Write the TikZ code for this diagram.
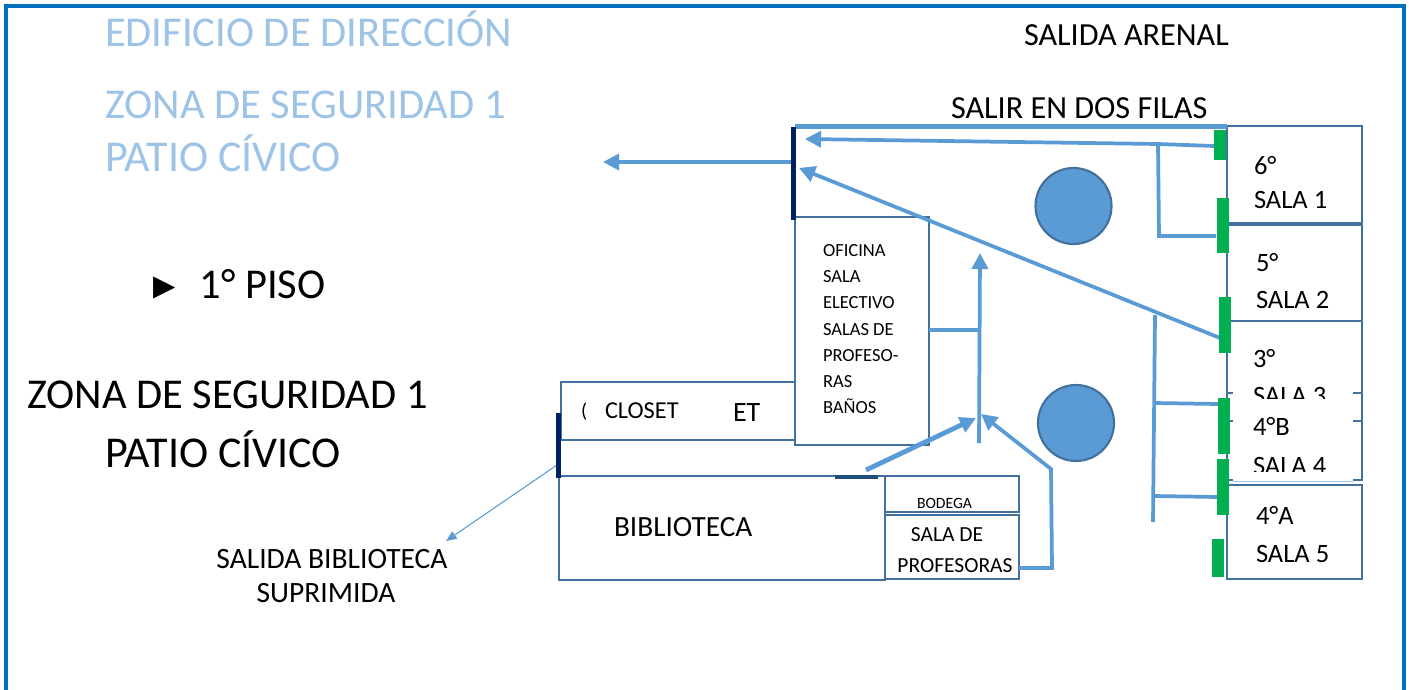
\documentclass[tikz,border=0pt]{standalone}
\usepackage{fontspec}
\setmainfont{Carlito}
\newfontfamily\symfont{DejaVu Sans}
\usetikzlibrary{arrows.meta}
\definecolor{framec}{HTML}{0070C0}
\definecolor{roomc}{HTML}{41719C}
\definecolor{flowc}{HTML}{5B9BD5}
\definecolor{palec}{HTML}{9DC3E6}
\definecolor{greenc}{HTML}{00B050}
\definecolor{navyc}{HTML}{002060}
\definecolor{darkc}{HTML}{1F4E79}
\newcommand{\fsz}[1]{\fontsize{\dimexpr #1pt*3/4\relax}{\dimexpr #1pt*9/10\relax}\selectfont}
\tikzset{
  x=0.75pt,y=-0.75pt,
  room/.style={draw=roomc,line width=2pt,fill=none,inner sep=0,outer sep=0},
  flow/.style={draw=flowc,line width=2.8pt},
  flowa/.style={flow,-{Triangle[length=12pt,width=12pt]}},
  txt/.style={anchor=base west,inner sep=0,outer sep=0,text=black},
  big/.style={txt,font=\fsz{42.5},text=palec},
  bigk/.style={txt,font=\fsz{42.5}},
  mid/.style={txt,font=\fsz{32.2}},
  lab/.style={txt,font=\fsz{26.5}},
  sm/.style={txt,font=\fsz{18.5}},
  door/.style={fill=greenc,draw=none,inner sep=0},
  bar/.style={line width=3.2pt,draw=navyc},
  pond/.style={circle,fill=flowc,draw=roomc,line width=1.6pt,inner sep=0,minimum size=57pt}
}
\newcommand{\rect}[5]{\node[room,anchor=north west,minimum width=#4*0.75pt,minimum height=#5*0.75pt] (#1) at (#2,#3) {};}
\newcommand{\grn}[5]{\node[door,anchor=north west,minimum width=#4*0.75pt,minimum height=#5*0.75pt] (#1) at (#2,#3) {};}
\begin{document}
\begin{tikzpicture}
\useasboundingbox (0,0) rectangle (1409,689);
\fill[white] (0,0) rectangle (1409,689);
\draw[framec,line width=3pt] (6,700) -- (6,6) -- (1404,6) -- (1404,700);

% titles
\node[big] (t1) at (105,46) {EDIFICIO DE DIRECCIÓN};
\node[big] (t2) at (105,118.5) {ZONA DE SEGURIDAD 1};
\node[big,font=\fsz{44}] (t3) at (105,171) {PATIO CÍVICO};
\node[txt,font=\symfont\fsz{29}] (t4) at (153,295) {▶};
\node[bigk] (t5) at (199.5,298) {1° PISO};
\node[bigk] (t6) at (27,408) {ZONA DE SEGURIDAD 1};
\node[bigk,font=\fsz{44}] (t7) at (105,467) {PATIO CÍVICO};
\node[mid] (t8) at (1024,45) {SALIDA ARENAL};
\node[mid] (t9) at (951,118.5) {SALIR EN DOS FILAS};
\node[txt,font=\fsz{29.5},anchor=base] (t10) at (332,568) {SALIDA BIBLIOTECA};
\node[txt,font=\fsz{29.5},anchor=base] (t11) at (326,602) {SUPRIMIDA};

% classrooms
\rect{s1}{1227}{126}{135}{98}
\rect{s2}{1227}{224}{135}{97}
\rect{s3}{1227}{321}{135}{100}
\rect{s4}{1227}{393}{135}{87}
\fill[white] (1233,390) rectangle (1353,482);
\rect{s5}{1227}{485}{135}{94}
\draw[palec,line width=0.8pt] (1233,481.5) -- (1353,481.5);
\draw[roomc,line width=2.6pt] (s1.south west) -- (s1.south east);

\node[lab] (a1) at (1254,174) {6°};
\node[lab] (a2) at (1254,208.5) {SALA 1};
\node[lab] (b1) at (1256,271) {5°};
\node[lab] (b2) at (1256,308.5) {SALA 2};
\node[lab] (c1) at (1253,367) {3°};
\begin{scope}
\clip (1233,380) rectangle (1353,398);
\node[lab] (c2) at (1253,404) {SALA 3};
\end{scope}
\node[lab] (d1) at (1253,435) {4°B};
\begin{scope}
\clip (1233,450) rectangle (1353,471);
\node[lab] (d2) at (1253,474) {SALA 4};
\end{scope}
\node[lab] (e1) at (1256,524) {4°A};
\node[lab] (e2) at (1256,562.5) {SALA 5};

% left block
\rect{clo}{561}{382}{234}{58}
\rect{ofi}{795}{217}{134}{228}
\rect{bib}{559}{476}{326}{104}
\rect{bod}{885}{476}{134}{36}
\rect{pro}{885}{515}{134}{64}

\node[txt,font=\fsz{20}] (k0) at (581,417) {(};
\node[txt,font=\fsz{24.3}] (k1) at (605,418) {CLOSET};
\node[txt,font=\fsz{28}] (k2) at (733,421) {ET};
\node[sm] (o1) at (823,256) {OFICINA};
\node[sm] (o2) at (823,282) {SALA};
\node[sm] (o3) at (823,308) {ELECTIVO};
\node[sm] (o4) at (823,335) {SALAS DE};
\node[sm] (o5) at (823,361) {PROFESO-};
\node[sm] (o6) at (823,387) {RAS};
\node[sm] (o7) at (823,413) {BAÑOS};
\node[txt,font=\fsz{29.3}] (b0) at (614,536) {BIBLIOTECA};
\node[txt,font=\fsz{15.7}] (b3) at (917,508) {BODEGA};
\node[txt,font=\fsz{21.5},anchor=base] (p1) at (947,541) {SALA DE};
\node[txt,font=\fsz{21.5},anchor=base] (p2) at (955,572) {PROFESORAS};

% ponds
\node[pond] (c1p) at (1073.5,206) {};
\node[pond] (c2p) at (1076,423) {};

% named points
\coordinate (toplineL) at (795,126.5);
\coordinate (toplineR) at (1227,126.5);
\coordinate (j1) at (1158,144);
\coordinate (g1a) at (1214,146);
\coordinate (g2a) at (1216,236);
\coordinate (g1t) at (805,139);
\coordinate (j1b) at (1159,236);
\coordinate (g3a) at (1220,338);
\coordinate (g3t) at (799,168);
\coordinate (barm) at (795,162);
\coordinate (lefttip) at (603,162);
\coordinate (vt) at (980,253);
\coordinate (vb) at (979,443);
\coordinate (ofr) at (929,330);
\coordinate (ofv) at (979,330);
\coordinate (d5) at (866,470);
\coordinate (d5t) at (976,418);
\coordinate (pr) at (1019,568);
\coordinate (q1) at (1052,568);
\coordinate (q2) at (1051,469);
\coordinate (q3) at (981,414);
\coordinate (l1) at (1155,315);
\coordinate (l2) at (1153,522);
\coordinate (l3) at (1154,403);
\coordinate (l4) at (1218,404);
\coordinate (l5) at (1153,496);
\coordinate (l6) at (1218,497);
\coordinate (bb) at (557,465);
\coordinate (bt) at (446,541);

% connectors
\draw[flow,line width=3.6pt] (toplineL) -- (toplineR);
\draw[flowa] (g1a) -- (j1) -- (g1t);
\draw[flow] (j1) -- (j1b) -- (g2a);
\draw[flowa] (g3a) -- (g3t);
\draw[flowa] (barm) -- (lefttip);
\draw[flowa] (vb) -- (vt);
\draw[flow] (ofr) -- (ofv);
\draw[flowa,line width=3.6pt] (d5) -- (d5t);
\draw[flowa] (pr) -- (q1) -- (q2) -- (q3);
\draw[flow] (l1) -- (l2);
\draw[flow] (l3) -- (l4);
\draw[flow] (l5) -- (l6);
\draw[flowc,line width=0.8pt,-{Triangle[length=8pt,width=6.5pt]}] (bb) -- (bt);

% doors
\grn{g1}{1214}{130}{12}{30}
\grn{g2}{1217}{198}{12}{55}
\grn{g3}{1219}{297}{12}{56}
\grn{g4}{1218}{398}{12}{56}
\grn{g5}{1217}{459}{12}{56}
\grn{g6}{1212}{539}{12}{38}
\draw[bar] (793.5,127) -- (793.5,220);
\draw[bar] (558.5,413) -- (558.5,478);
\draw[darkc,line width=3.6pt] (835,477) -- (878,477);
\end{tikzpicture}
\end{document}
